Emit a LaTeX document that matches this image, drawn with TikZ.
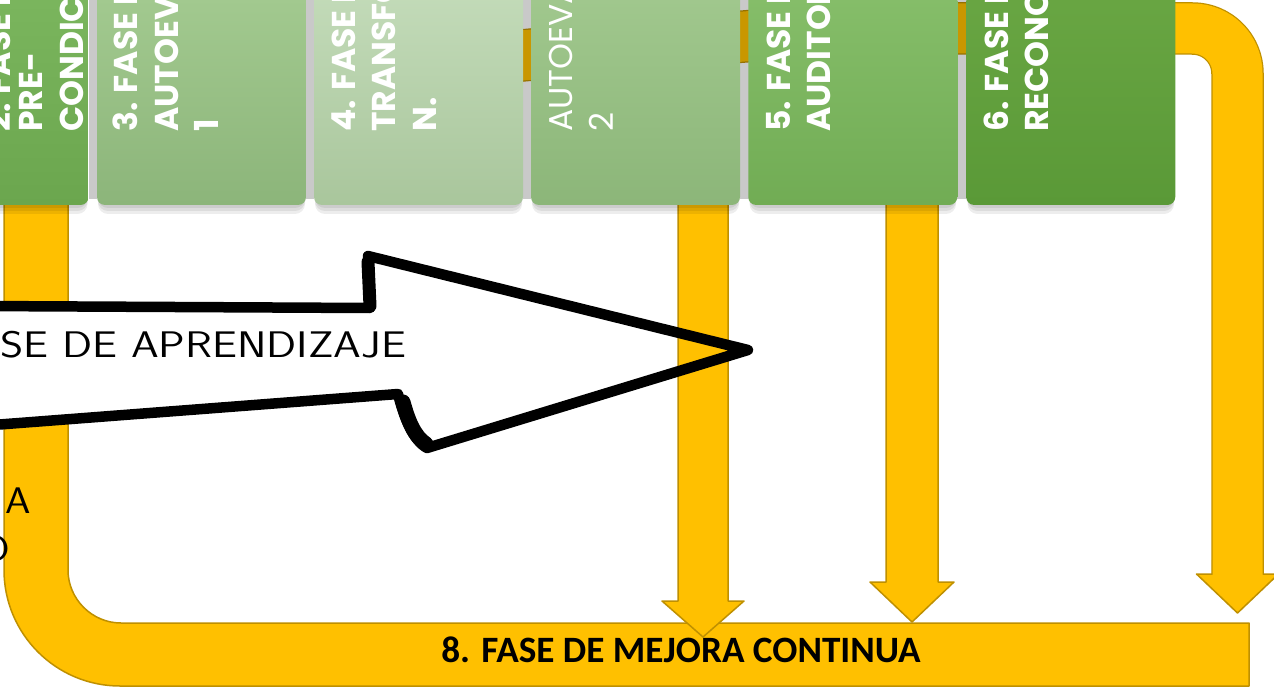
\documentclass[tikz,border=0pt]{standalone}
\usepackage{fontspec}
\newfontfamily\pop{Poppins}
\newfontfamily\carl{Carlito}
\definecolor{bandfill}{HTML}{FFC000}
\definecolor{bandline}{HTML}{BF9000}
\definecolor{aTop}{HTML}{7BB65E}\definecolor{aBot}{HTML}{6BA64E}
\definecolor{bTop}{HTML}{A3CA90}\definecolor{bBot}{HTML}{8CB57A}
\definecolor{cTop}{HTML}{C3DBB9}\definecolor{cBot}{HTML}{A9C69C}
\definecolor{dTop}{HTML}{A1C88E}\definecolor{dBot}{HTML}{8CB679}
\definecolor{eTop}{HTML}{86BE6A}\definecolor{eBot}{HTML}{71AC54}
\definecolor{fTop}{HTML}{69A643}\definecolor{fBot}{HTML}{5A9937}
\tikzset{
  band/.style={draw=bandline, fill=bandfill, line width=1.5pt},
  phase/.style={rounded corners=8pt, minimum width=209pt, minimum height=217pt, inner sep=0pt, draw=none},
  ptext/.style={rotate=90, anchor=base west, inner sep=0pt, text=white, font=\pop\bfseries\fontsize{33}{40}\selectfont},
  plight/.style={rotate=90, anchor=base west, inner sep=0pt, text=white, font=\pop\fontsize{33}{40}\selectfont},
  hand/.style={inner sep=0pt, text=black, font=\sffamily\fontsize{37}{40}\selectfont},
  outline/.style={draw=black, line width=10.5pt, line cap=round, line join=round},
}
\begin{document}
\begin{tikzpicture}[x=1pt,y=-1pt,line join=round]
\useasboundingbox (0,0) rectangle (1274,687);
\clip (0,0) rectangle (1274,687);
\fill[white] (-5,-5) rectangle (1280,692);
% loop band (left + bottom)
\draw[band] (4,150) -- (4,570) .. controls (4,634) and (56,686) .. (120,686) -- (1249,686) -- (1249,623) -- (121,623) .. controls (92,623) and (68,599) .. (68,570) -- (68,150) -- cycle;
% white fill of the big arrow
\fill[white] (-20,306) -- (370,308) -- (368,256) -- (748,350) -- (427,448) -- (398,394) -- (-20,426) -- cycle;
% arrows into the bottom band
\draw[band] (678,180) -- (678,601) -- (662,601) -- (703,637) -- (744,601) -- (728,601) -- (728,180) -- cycle;
\draw[band] (886,180) -- (886,582) -- (870,582) -- (912,622) -- (954,582) -- (938,582) -- (938,180) -- cycle;
% top band with the right arrow
\draw[line width=52.5pt, draw=bandline, line cap=butt] (418.5,65.5) -- (635.5,44.5) -- (852.5,28.5) -- (1192.5,28.5) .. controls (1217.35,28.5) and (1237.5,48.65) .. (1237.5,73.5) -- (1237.5,575);
\draw[band] (1212.5,560) -- (1212.5,574) -- (1196.5,574) -- (1237.5,613) -- (1278.5,574) -- (1262.5,574) -- (1262.5,560) -- cycle;
\draw[line width=50pt, draw=bandfill, line cap=butt] (418.5,65.5) -- (635.5,44.5) -- (852.5,28.5) -- (1192.5,28.5) .. controls (1217.35,28.5) and (1237.5,48.65) .. (1237.5,73.5) -- (1237.5,575);
% shadows
\foreach \a/\b in {88.5/97, 306/314, 523/531, 740/748.5, 957/966.5}
  \fill[black, opacity=0.21] (\a,-5) rectangle (\b,199);
\foreach \a/\b in {-120.5/88.5, 97/306, 314/523, 531/740, 748.5/957, 966.5/1175}
  \foreach \k in {3,6,9}
    \fill[black, opacity=0.07, rounded corners=10pt] (\a+1,0) rectangle (\b-1,205+\k);
% phase boxes
\node[phase, top color=aTop, bottom color=aBot] (pa) at (-16,96.5) {};
\node[phase, top color=bTop, bottom color=bBot] (pb) at (201.5,96.5) {};
\node[phase, top color=cTop, bottom color=cBot] (pc) at (418.5,96.5) {};
\node[phase, top color=dTop, bottom color=dBot] (pd) at (635.5,96.5) {};
\node[phase, top color=eTop, bottom color=eBot] (pe) at (852.75,96.5) {};
\node[phase, top color=fTop, bottom color=fBot] (pf) at (1070.75,96.5) {};
% texts in the boxes
\node[ptext] (ta1) at (10,132) {2. FASE DE};
\node[ptext] (ta2) at (42,132) {PRE-};
\node[ptext] (ta3) at (83,132) {CONDICIONES};
\node[ptext] (tb1) at (137,132) {3. FASE DE};
\node[ptext] (tb2) at (178,132) {AUTOEVALUACIÓN};
\node[ptext] (tb3) at (218,132) {1};
\node[ptext] (tc1) at (355,132) {4. FASE DE};
\node[ptext] (tc2) at (395.5,132) {TRANSFORMACIÓ};
\node[ptext] (tc3) at (436,132) {N.};
\node[plight] (td1) at (572,132) {AUTOEVALUACIÓN};
\node[plight] (td2) at (613,132) {2};
\node[ptext] (te1) at (790,132) {5. FASE DE};
\node[ptext] (te2) at (830,132) {AUDITORÍA};
\node[ptext] (tf1) at (1008,132) {6. FASE DE};
\node[ptext] (tf2) at (1048,132) {RECONOCIMIENTO};
% big hand-drawn arrow outline
\draw[outline] (-20,306) -- (370,308) -- (368,256) -- (748,350) -- (427,448) .. controls (413,440) and (404,418) .. (398,394) -- (-20,426);
\draw[black, line width=15pt, line cap=round] (426,444) .. controls (414,436) and (408,420) .. (403,402);
\draw[black, line width=13pt, line cap=round] (370,306) -- (368,262);
\node[hand, anchor=base west, xscale=1.2] (lbl) at (0,357) {SE DE APRENDIZAJE};
\node[hand, anchor=base east, xscale=1.1] (fa) at (31,513) {A};
\node[hand, anchor=base east, xscale=1.1] (fd) at (10,561) {D};
% bottom label
\node[anchor=base, inner sep=0pt, font=\carl\bfseries\fontsize{37.2}{40}\selectfont] (mejora) at (681,662) {8. FASE DE MEJORA CONTINUA};
\end{tikzpicture}
\end{document}
